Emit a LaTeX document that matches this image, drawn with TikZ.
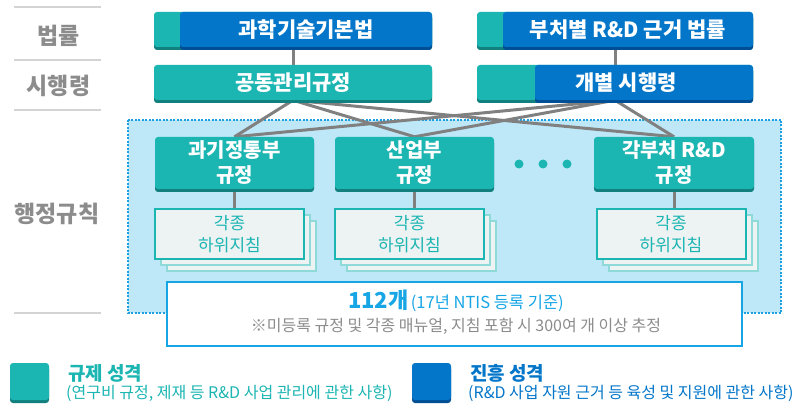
\documentclass[tikz,border=0pt]{standalone}
\usepackage{fontspec}
\setmainfont{Noto Sans CJK KR}
\usetikzlibrary{shadows}

\definecolor{regteal}{RGB}{27,181,178}
\definecolor{regtealdk}{RGB}{18,128,126}
\definecolor{problue}{RGB}{3,118,201}
\definecolor{probluedk}{RGB}{0,78,148}
\definecolor{areablue}{RGB}{190,232,248}
\definecolor{dotblue}{RGB}{28,160,226}
\definecolor{noteblue}{RGB}{22,166,230}
\definecolor{linegray}{RGB}{128,128,128}
\definecolor{labelgray}{RGB}{140,140,140}
\definecolor{rulegray}{RGB}{212,212,212}
\definecolor{subfill}{RGB}{237,242,242}

\pgfdeclarelayer{back}
\pgfdeclarelayer{wires}
\pgfsetlayers{back,wires,main}

\begin{document}
\begin{tikzpicture}[x=1pt, y=-1pt,
  basebox/.style={rectangle, rounded corners=3pt, inner sep=0pt, text=white,
    font=\bfseries\fontsize{21}{24}\selectfont, align=center},
  tealbox/.style={basebox, fill=regteal, general shadow={fill=regtealdk, shadow yshift=-3pt}},
  bluebox/.style={basebox, fill=problue, general shadow={fill=probluedk, shadow yshift=-3pt}},
  topbox/.style={minimum height=35pt},
  minbox/.style={tealbox, font=\bfseries\fontsize{20}{25}\selectfont, minimum width=159pt, minimum height=52pt},
  subbox/.style={rectangle, draw=regteal, line width=2pt, fill=subfill, minimum width=149pt,
    minimum height=50pt, text=regteal, font=\fontsize{17}{22}\selectfont, align=center},
  subback/.style={subbox, draw=regteal!50},
  wire/.style={draw=linegray, line width=3pt},
  rowlabel/.style={text=labelgray, font=\bfseries\fontsize{23}{26}\selectfont},
  rowrule/.style={draw=rulegray, line width=1.5pt},
  plaintext/.style={inner sep=0pt}]
\useasboundingbox (0,0) rectangle (800,406);

\begin{pgfonlayer}{back}
\draw[fill=areablue, draw=dotblue, line width=2.5pt, dash pattern=on 2pt off 1.5pt] (128,120) rectangle (781,313);
\end{pgfonlayer}

\draw[rowrule] (14,7) -- (101,7);
\draw[rowrule] (14,60) -- (101,60);
\draw[rowrule] (14,110) -- (101,110);
\draw[rowrule] (14,313) -- (101,313);
\node[rowlabel] (lawlbl) at (58.5,36) {법률};
\node[rowlabel] (declbl) at (58.5,86) {시행령};
\node[rowlabel] (rulelbl) at (57,214) {행정규칙};

\node[tealbox, topbox, minimum width=278pt] (law1) at (293,29.5) {};
\node[bluebox, topbox, minimum width=252pt] (law1b) at (306,29.5) {과학기술기본법};
\node[tealbox, topbox, minimum width=276pt] (law2) at (615,29.5) {};
\node[bluebox, topbox, minimum width=250pt] (law2b) at (628,29.5) {부처별 R\&D 근거 법률};

\node[tealbox, topbox, minimum width=278pt] (dec1) at (293,82.5) {공동관리규정};
\node[tealbox, topbox, minimum width=276pt] (dec2) at (615,82.5) {};
\node[bluebox, topbox, minimum width=218pt] (dec2b) at (644,82.5) {};
\node[basebox] (dec2t) at (626,82.5) {개별 시행령};

\node[minbox] (min1) at (234.5,163) {과기정통부\\규정};
\node[minbox] (min2) at (414.5,163) {산업부\\규정};
\node[minbox, minimum width=160pt] (min3) at (674,163) {각부처 R\&D\\규정};
\fill[regteal] (519,164) circle (4.5) (543,164) circle (4.5) (567,164) circle (4.5);

\node[subback] (sub1c) at (241.5,246) {};
\node[subback] (sub1b) at (235.5,240) {};
\node[subbox] (sub1) at (229.5,234) {각종\\하위지침};
\node[subback] (sub2c) at (421.5,246) {};
\node[subback] (sub2b) at (415.5,240) {};
\node[subbox] (sub2) at (409.5,234) {각종\\하위지침};
\node[subback] (sub3c) at (683,246) {};
\node[subback] (sub3b) at (677,240) {};
\node[subbox] (sub3) at (671,234) {각종\\하위지침};

\node[rectangle, draw=noteblue, line width=2.5pt, fill=white, minimum width=575pt, minimum height=64pt] (note) at (454.5,314) {};
\node[plaintext] (notehead) at (456,301) {{\bfseries\fontsize{22}{24}\selectfont\color{noteblue}112개} {\fontsize{16.5}{18}\selectfont\color{noteblue}(17년 NTIS 등록 기준)}};
\node[plaintext, text=labelgray, font=\fontsize{16}{18}\selectfont] (notesub) at (456,326) {※미등록 규정 및 각종 매뉴얼, 지침 포함 시 300여 개 이상 추정};

\node[tealbox, minimum width=39pt, minimum height=37pt] (regkey) at (29.5,381.5) {};
\node[plaintext, anchor=west, text=regteal, font=\bfseries\fontsize{19}{20}\selectfont] (regtitle) at (68,373) {규제 성격};
\node[plaintext, anchor=west, text=regteal, font=\fontsize{16}{18}\selectfont] (regnote) at (66,393) {(연구비 규정, 제재 등 R\&D 사업 관리에 관한 사항)};
\node[bluebox, minimum width=39pt, minimum height=37pt] (prokey) at (431.5,381.5) {};
\node[plaintext, anchor=west, text=problue, font=\bfseries\fontsize{19}{20}\selectfont] (protitle) at (470,373) {진흥 성격};
\node[plaintext, anchor=west, text=problue, font=\fontsize{16}{18}\selectfont] (pronote) at (468,393) {(R\&D 사업 자원 근거 등 육성 및 지원에 관한 사항)};

\begin{pgfonlayer}{wires}
\draw[wire] (law1.south) -- (dec1.north);
\draw[wire] (law2.south) -- (dec2.north);
\draw[wire] (dec1.south) -- (min1.north);
\draw[wire] (dec1.south) -- (min2.north);
\draw[wire] (dec1.south) -- (min3.north);
\draw[wire] (dec2.south) -- (min1.north);
\draw[wire] (dec2.south) -- (min2.north);
\draw[wire] (dec2.south) -- (min3.north);
\draw[wire] (min1.south) -- (min1.south |- sub1.north);
\draw[wire] (min2.south) -- (min2.south |- sub2.north);
\draw[wire] (min3.south) -- (min3.south |- sub3.north);
\end{pgfonlayer}
\end{tikzpicture}
\end{document}
